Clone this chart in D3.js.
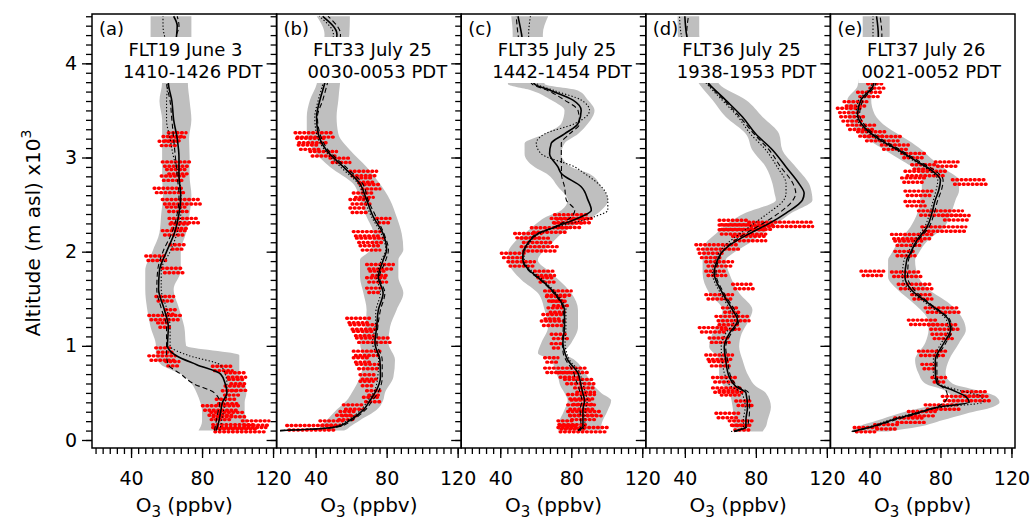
<!DOCTYPE html>
<html>
<head>
<meta charset="UTF-8">
<title>O3 profiles</title>
<style>
  body { margin: 0; background: #fff; }
  svg text { font-family: "DejaVu Sans", sans-serif; fill: #000; }
  .tick line { stroke: #000; stroke-width: 1.3; }
</style>
</head>
<body>
<svg id="chart" width="1033" height="524"></svg>
<script src="https://d3js.org/d3.v7.min.js"></script>
<script>
// ---- panel (a) FLT19 ----
const altA   = [0.1,0.2,0.3,0.4,0.5,0.6,0.7,0.8,0.9,1.0,1.2,1.4,1.6,1.8,2.0,2.2,2.4,2.6,2.8,3.0,3.2,3.4,3.6,3.8,4.0,4.2,4.4,4.5];
const solidA = [88,89.5,90.5,91.5,94,93,90.5,77,65,60.5,61,58.5,55.5,56,60,64.5,67,68,67,67,66,64,63,61,63,65,66,64];
const dashA  = [87,88,89,90,87,75,68,61,60,60,60,57,54.5,55,58,63,66,67,66,65,64,63,62,60,61,63,67,66];
const dotA   = [90,91,92,93,94,94,93,90,72,62,62,60,57,57,62,66,68,68,67,64,62,60,60,61,62,60,58,58];
const loA    = [78,80,80,79,77,74,68,57,54,54,51,49,48,48,52,56,57,58,57.5,57.5,57.5,57.5,56,57.5,54,51,51,51];
const hiA    = [105,105,104,104,105,104,101,101,101,71,70,67,64,68,68,71,73,74,73,73,72.7,74,73,72,72,74,74,74];
const obsAltA = [3.24,3.20,3.15,2.93,2.85,2.78,2.65,2.53,2.45,2.33,2.27,2.20,2.05,1.93,1.80,1.50,1.36,1.30,1.22,0.955,0.87,0.81,0.76,0.69,0.62,0.55,0.50,0.41,0.34,0.27,0.24,0.18,0.14,0.11];
const obsLoA  = [61,58,55.8,57.6,60,57,53,57.6,60,61.4,62,57.6,62,48.3,57.6,54,59.5,50,55,53.9,50,59.5,85.8,93.3,95,93,91.4,88,80.2,85,83.9,102.7,86,86];
const obsHiA  = [71,69,66,73.6,72,70,69.9,79,72,78.3,72,70.8,70,59.5,69.9,64,65,68,62,63.3,65,67,97,104.6,104,105,100.8,100,100.8,104,97,117.7,110,116];

// ---- panel (b) FLT33 ----
const altB   = [0.10,0.12,0.14,0.21,0.32,0.42,0.50,0.67,0.85,1.03,1.20,1.38,1.56,1.73,1.91,2.02,2.19,2.37,2.55,2.72,2.90,3.08,3.25,3.43,3.61,3.78,4.00,4.31,4.50];
const solidB = [20,42,51.8,59.3,66.9,70.6,73.4,76.5,76.2,73.4,74.4,75.3,78,75.3,78,80,78,72.5,68.7,65,55.6,46,41.5,40.5,42.4,45,48,52,44];
const dashB  = [20,43,53,60.5,68,72,75,77.5,77.5,74.5,75,76.5,79,76,79.5,81,78.5,74,69.5,66.5,57,47,42.5,41,44,46.5,49,54,47];
const dotB   = [20,41,50.5,58,65.5,69.5,72.5,75,75.5,72,73.5,74,76.5,74.5,77,79.5,77,71.5,67.5,64,54,45,40.5,39.5,41.5,44,46,50,42];
const loB    = [43,42,42.4,46.2,51.8,57.5,60.3,65,66.9,65,67.8,68.7,66.9,65,65,71,72.5,68.7,65,61.2,48.1,38.7,35,35,36.8,40.6,42,45,40.6];
const hiB    = [56,58,59.3,65,74.4,78,79,83.8,84.7,81,81.9,85.6,89.4,86.6,86.6,89.4,88.5,85.6,81.9,76.2,68.7,59.3,52.8,51.8,52.8,53.7,56,59,59.3];
const obsAltB = [3.24,3.18,3.11,3.04,2.97,2.83,2.76,2.69,2.60,2.53,2.44,2.33,2.19,2.12,2.04,1.84,1.77,1.70,1.59,1.27,1.20,1.13,1.06,0.92,0.85,0.78,0.67,0.60,0.50,0.43,0.35,0.28,0.24,0.18,0.13];
const obsLoB  = [28.4,29.3,30.2,36.8,48.1,59.3,63,65,61.2,59.3,59.3,74.4,61.2,63,65,68.7,70.6,68.7,68.7,57.5,59.3,61.2,63,61.2,61.2,63,65,65,68.7,66.9,55.6,53.7,51.8,42.4,23.7];
const obsHiB  = [50,46.2,42.4,51.8,59.3,74.4,72.5,76.2,72.5,70.6,68.7,81.9,76.2,78,76.2,83.8,80,80,76.2,70.6,74.4,72.5,81.9,76.2,70.6,76.2,74.4,72.5,76.2,76.2,66.9,63,61.2,55.6,51.8];

// ---- panel (c) FLT35 ----
const altC   = [0.10,0.14,0.32,0.42,0.50,0.57,0.67,0.71,0.85,0.92,1.03,1.20,1.38,1.56,1.70,1.80,1.91,1.98,2.09,2.19,2.26,2.37,2.44,2.55,2.69,2.83,2.90,3.04,3.15,3.25,3.36,3.50,3.61,3.71,3.78,4.00,4.31,4.50];
const solidC = [83.8,86.6,86.6,87.5,86.5,85.6,84.5,83.8,78,76.5,75.3,76.2,76.2,70.6,63,56.5,52.8,52.8,55.6,61.2,70.6,85.6,91.3,89.4,85.6,74.4,72.5,67.8,68.7,76.2,83.8,85.6,81,68.7,59.3,54,52,50];
const dashC  = [84,85.5,85,86,85,84,82,81.5,77,75.5,75,75.5,75.5,70,62.5,56,52.5,53,55.5,60.5,70,80,82,77.2,76.2,74.4,74.5,74.4,74.4,79,84.7,83.8,76.2,66.9,58,53,50,49];
const dotC   = [85,87.5,88,89,88,87,85.5,85,79,77.5,76.5,77,77,71.5,64,57.5,53.5,53.5,56.5,62,72,93,100.6,100.6,97,87.5,81.9,63,60.3,65,82,90.3,85.6,70.6,61,57,56,57];
const loC    = [72.5,72.5,76.2,78,76.2,74,72.5,71.5,68.7,61.2,63.1,66.9,65,61.2,52,47,44.3,44.3,47.5,53.5,58,66,74.4,78,72.5,66,59.3,53.7,53.7,65,74.4,76.2,68.7,58,44.3,46,47,46.2];
const hiC    = [96.9,96.9,100.7,102.5,96.9,93,89.4,88,81.9,76.2,80,83.8,83.8,80,73,67,61.2,63.1,69,74.5,80,92,96.9,100.7,96.9,90,80,74.4,76.2,83.8,89.4,93.1,89.4,84,65,64,64,67];
const obsAltC = [2.37,2.33,2.28,2.23,2.17,2.12,2.03,1.96,1.87,1.77,1.70,1.56,1.50,1.45,1.38,1.31,1.24,1.10,1.00,0.85,0.74,0.69,0.62,0.53,0.46,0.40,0.35,0.28,0.24,0.18,0.14,0.11];
const obsLoC  = [70.6,68.7,70.6,57.5,48.1,51.8,51.8,40.6,44.3,59.3,61.2,65,66,68.7,66.9,64,63.1,68.7,68.7,65,65,72.5,76.2,81.9,78,80,78,78,79,72.5,73,72.5];
const obsHiC  = [89.4,91.3,86,78,63.1,68.7,72.5,53.7,59.3,70.6,70.6,80,77,78,76.2,75,76.2,78,74.4,72.5,89.4,83.8,93.1,93.1,93.1,92,93.1,96.9,94,81.9,88,100.6];

// ---- panel (d) FLT36 ----
const altD   = [0.09,0.14,0.21,0.35,0.50,0.57,0.67,0.85,0.99,1.13,1.27,1.38,1.56,1.77,1.91,1.98,2.09,2.19,2.30,2.41,2.55,2.62,2.72,2.90,3.08,3.25,3.43,3.61,3.78,4.00,4.30,4.50];
const solidD = [67.8,74.4,74.4,75.3,74.4,68.7,65,63,62.2,65,69.7,66.9,61.2,56.5,58.4,60.3,66.9,76.2,87.5,97,106.3,107.2,104.4,97,89.4,80,72.5,63,53.7,46,41,40];
const dashD  = [68,75,76,76.5,76,70,66,64,63,66,70.5,68,62,57.5,59,60.5,66,74,84,93,101,102.5,101,94,87.5,79,71,62,53,45,41,42];
const dotD   = [66,73,73,74,72,66,63,61,60.5,63,68,65.5,60,55.5,57.5,59,64,71,79,87,95.8,97,97,92,85.6,77,70,61,52.5,44,38,37];
const loD    = [67.6,67.6,67.6,66.9,65,62,59.3,59.3,53.7,55.5,59.5,61.2,53.7,50,50,50,51.8,57.5,64,74,91.3,90.5,89.4,85.6,78,74.4,63.1,55.6,48.1,42,36,35.9];
const hiD    = [83.8,85.6,86.6,88.5,85.6,80,76.2,72.5,70.6,72,76,78.1,70.6,65,63.1,66.9,76.2,83.8,92,100,111.9,111.5,110,102.5,94.9,93.1,83.8,74.4,59.3,55,48.1,48.1];
const obsAltD = [2.31,2.29,2.26,2.21,2.14,2.05,1.96,1.87,1.77,1.63,1.52,1.38,1.29,1.20,1.17,1.06,0.88,0.81,0.64,0.53,0.50,0.39,0.26,0.18,0.13];
const obsLoD  = [59.3,76,59.3,59.3,66.9,46.2,48.1,51.8,51.8,66.9,51.8,61.2,57.5,59.3,48.1,53.7,51.8,53.7,55.6,55.6,59.3,68.7,57.5,65,66.9];
const obsHiD  = [76.2,112,89.4,85.6,85.6,70.6,61.2,66.9,63.1,79,66.9,70.6,76.2,70.6,63.1,65,66.9,65,68.7,72.5,70.6,78.1,70.6,78.1,76.2];

// ---- panel (e) FLT37 ----
const altE   = [0.09,0.14,0.21,0.28,0.35,0.40,0.46,0.53,0.60,0.71,0.85,1.03,1.17,1.27,1.45,1.59,1.73,1.91,1.98,2.12,2.26,2.41,2.55,2.65,2.76,2.86,2.97,3.08,3.18,3.32,3.46,3.61,3.76,4.00,4.30,4.50];
const solidE = [30.5,41,52.4,65.7,79,96.2,94.3,86.7,78.1,77.1,77.1,81.9,85.7,84.8,73.3,63.8,60,61,62.9,66.7,72.4,75.2,77.1,79,80,75.2,65.7,56.2,46.7,37.1,33.3,35.2,42,44,45,44];
const dashE  = [31,42,54,67,78,82,84,83,79,78,78,83,86.5,85.5,74,65.5,61.5,62,63.5,67.5,73.5,76.5,78.5,80.5,81.5,77,67,57.5,48,38.5,34.5,36.5,43,46,47,46];
const dotE   = [30,40,51,64,82,104,103,90,79,76,76,80.5,84.5,83.5,72,62.5,58.5,59.5,61.5,65.5,71,74,76,77.5,78.5,74,64.5,55,45.5,36,32.5,34,41,42,42,42];
const loE    = [29.5,33.3,44.8,56.2,71.4,86,86,82,71.4,67.6,65.7,71.4,73.3,73,65,56.2,50.5,50.5,52.4,57,63,67,68.5,69.5,69.5,67,58,48.6,40,31,27.6,27.6,33.3,35,36.2,36.2];
const hiE    = [50.5,67.6,81,94.3,109.5,113.3,111.4,100,86.7,82.9,84.8,90.5,94.3,93,85,74,67.6,65.7,67.6,73,82,86,88.5,90.5,90.5,84,76,69.5,62,50,42.9,41,42.9,48,51.4,51.4];
const obsAltE = [3.76,3.67,3.57,3.50,3.41,3.32,3.25,3.20,3.11,3.02,2.93,2.90,2.83,2.76,2.74,2.62,2.51,2.41,2.36,2.24,2.16,2.09,1.98,1.77,1.76,1.63,1.52,1.38,1.25,1.20,1.10,0.92,0.78,0.64,0.49,0.44,0.35,0.28,0.21,0.14,0.11];
const obsLoE  = [39,33.3,25.7,21.9,23.8,27.6,33.3,37.1,46.7,58.1,77.1,63.8,60,58.1,86.7,60,60,67.6,81,69.5,52.4,54.3,54.3,35.2,52.4,56.2,63.8,71.4,61.9,73.3,75.2,67.6,69.5,75.2,92.4,81,71.4,61.9,54.3,42.9,31.4];
const obsHiE  = [48.6,46.7,39,35.2,37.1,42.9,48.6,58.1,61.9,71.4,90.5,77.1,82.9,71.4,105.7,75.2,71.4,92.4,96.2,94.3,75.2,69.5,65.7,48.6,69.5,75.2,75.2,90.5,79,90.5,86.7,82.9,77.1,82.9,105.7,108,90.5,77.1,71.4,56.2,44.8];

// panel labels
const tags    = ["(a)", "(b)", "(c)", "(d)", "(e)"];
const flights = ["FLT19 June 3", "FLT33 July 25", "FLT35 July 25", "FLT36 July 25", "FLT37 July 26"];
const times   = ["1410-1426 PDT", "0030-0053 PDT", "1442-1454 PDT", "1938-1953 PDT", "0021-0052 PDT"];
const xMajor  = [40, 80, 120];
const yMajor  = [0, 1, 2, 3, 4];

const panels = [
  { alt: altA, solid: solidA, dash: dashA, dot: dotA, lo: loA, hi: hiA, oA: obsAltA, oL: obsLoA, oH: obsHiA },
  { alt: altB, solid: solidB, dash: dashB, dot: dotB, lo: loB, hi: hiB, oA: obsAltB, oL: obsLoB, oH: obsHiB },
  { alt: altC, solid: solidC, dash: dashC, dot: dotC, lo: loC, hi: hiC, oA: obsAltC, oL: obsLoC, oH: obsHiC },
  { alt: altD, solid: solidD, dash: dashD, dot: dotD, lo: loD, hi: hiD, oA: obsAltD, oL: obsLoD, oH: obsHiD },
  { alt: altE, solid: solidE, dash: dashE, dot: dotE, lo: loE, hi: hiE, oA: obsAltE, oL: obsLoE, oH: obsHiE }
];

// layout
const plotLeft = 92, plotRight = 1015, plotTop = 14, plotBottom = 448;
const panelW = (plotRight - plotLeft) / panels.length;

const svg = d3.select("#chart");

const y = d3.scaleLinear().domain([-0.085, 4.524]).range([plotBottom, plotTop]);

// each observation streak is drawn as two offset rows of red dots
const rows = [{ dy: -2.2, off: 0 }, { dy: 2.2, off: 2.2 }];

panels.forEach((p, i) => {
  const x0 = plotLeft + i * panelW;
  const x = d3.scaleLinear().domain([18, 122]).range([x0, x0 + panelW]);

  const g = svg.append("g");
  const clipId = "clip" + i;
  svg.append("clipPath").attr("id", clipId)
    .append("rect").attr("x", x0).attr("y", plotTop).attr("width", panelW).attr("height", plotBottom - plotTop);

  const plot = g.append("g").attr("clip-path", `url(#${clipId})`);

  // model spread band
  const band = p.alt.map((a, k) => ({ a: a, lo: p.lo[k], hi: p.hi[k] }));
  plot.append("path")
    .datum(band)
    .attr("fill", "#bfbfbf")
    .attr("d", d3.area().y(d => y(d.a)).x0(d => x(d.lo)).x1(d => x(d.hi)).curve(d3.curveMonotoneY));

  // observations (red dots)
  const obs = p.oA.map((a, k) => ({ a: a, lo: p.oL[k], hi: p.oH[k] }));
  rows.forEach(r => {
    plot.append("g").selectAll("line")
      .data(obs)
      .enter()
      .append("line")
      .attr("x1", d => x(d.lo))
      .attr("x2", d => x(d.hi))
      .attr("y1", d => y(d.a) + r.dy)
      .attr("y2", d => y(d.a) + r.dy)
      .attr("stroke", "#ff0000")
      .attr("stroke-width", 3.4)
      .attr("stroke-linecap", "round")
      .attr("stroke-dasharray", "0.8 3.6")
      .attr("stroke-dashoffset", r.off);
  });

  // model lines
  const line = d3.line().y(d => y(d.a)).x(d => x(d.v)).curve(d3.curveMonotoneY);
  const series = [
    { v: p.dot, dash: "1.3 2", w: 1.1 },
    { v: p.dash, dash: "5 3", w: 1.1 },
    { v: p.solid, dash: null, w: 1.6 }
  ];
  series.forEach(s => {
    plot.append("path")
      .datum(p.alt.map((a, k) => ({ a: a, v: s.v[k] })))
      .attr("fill", "none")
      .attr("stroke", "#000")
      .attr("stroke-width", s.w)
      .attr("stroke-dasharray", s.dash)
      .attr("d", line);
  });

  // title box
  g.append("rect")
    .attr("x", x0 + 28).attr("y", 37)
    .attr("width", 146).attr("height", 46)
    .attr("fill", "#fff");
  g.append("text")
    .attr("x", x0 + 36.5).attr("y", 56)
    .attr("font-size", 18)
    .text(flights[i]);
  g.append("text")
    .attr("x", x0 + 31).attr("y", 78)
    .attr("font-size", 18)
    .text(times[i]);
  g.append("text")
    .attr("x", x0 + 7).attr("y", 35)
    .attr("font-size", 18)
    .text(tags[i]);

  // x axis: minor + major ticks
  g.append("g")
    .attr("transform", `translate(0, ${plotBottom})`)
    .call(d3.axisBottom(x).tickValues(d3.range(20, 121, 4)).tickSize(6).tickFormat(""))
    .call(a => a.select(".domain").remove());
  g.append("g")
    .attr("transform", `translate(0, ${plotBottom})`)
    .call(d3.axisBottom(x).tickValues(xMajor).tickSize(10).tickPadding(14).tickFormat(d3.format("d")))
    .call(a => a.select(".domain").remove())
    .call(a => a.selectAll("text").attr("font-size", 19).attr("font-family", "DejaVu Sans"));

  // y axis on left edge of each panel (outward ticks)
  g.append("g")
    .attr("transform", `translate(${x0}, 0)`)
    .call(d3.axisLeft(y).tickValues(d3.range(0, 46).map(k => k / 10)).tickSize(6).tickFormat(""))
    .call(a => a.select(".domain").remove());
  g.append("g")
    .attr("transform", `translate(${x0}, 0)`)
    .call(d3.axisLeft(y).tickValues(yMajor).tickSize(10).tickPadding(5)
      .tickFormat(i === 0 ? d3.format("d") : ""))
    .call(a => a.select(".domain").remove())
    .call(a => a.selectAll("text").attr("font-size", 19).attr("font-family", "DejaVu Sans"));

  // frame
  g.append("rect")
    .attr("x", x0).attr("y", plotTop)
    .attr("width", panelW).attr("height", plotBottom - plotTop)
    .attr("fill", "none")
    .attr("stroke", "#000")
    .attr("stroke-width", 1.5);

  // x axis title
  const xt = g.append("text")
    .attr("x", x0 + panelW / 2).attr("y", 512)
    .attr("text-anchor", "middle")
    .attr("font-size", 20);
  xt.append("tspan").text("O");
  xt.append("tspan").attr("font-size", 15).attr("dy", 5).text("3");
  xt.append("tspan").attr("dy", -5).text(" (ppbv)");
});

// y axis title
const yt = svg.append("text")
  .attr("transform", "translate(40, 233) rotate(-90)")
  .attr("text-anchor", "middle")
  .attr("font-size", 20);
yt.append("tspan").text("Altitude (m asl) x10");
yt.append("tspan").attr("font-size", 14).attr("dy", -9).text("3");
</script>
</body>
</html>
